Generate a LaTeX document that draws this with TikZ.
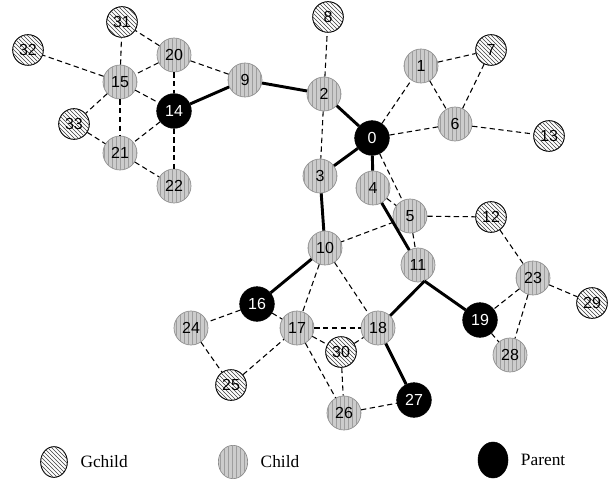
\documentclass[tikz,border=0pt]{standalone}
\usepackage{fontspec}
\setmainfont{Liberation Serif}
\setsansfont{Liberation Sans}
\usetikzlibrary{patterns,positioning,shapes}

\tikzset{
  numfont/.style={font=\sffamily\fontsize{12}{14}\selectfont},
  gchild/.style={circle, draw=black, line width=0.7, minimum size=23pt, inner sep=0pt,
    fill=white, postaction={pattern=north west lines, pattern color=black!75}, numfont},
  child/.style={circle, draw=black!45, line width=0.5, minimum size=25.5pt, inner sep=0pt,
    fill=black!20, postaction={pattern=vertical lines, pattern color=black!38}, numfont},
  parent/.style={circle, draw=black, fill=black, text=white, minimum size=26pt, inner sep=0pt, numfont},
  bond/.style={line width=2.2pt, black},
  link/.style={line width=0.8pt, black, dash pattern=on 4pt off 2.6pt},
  legtext/.style={font=\fontsize{13}{15}\selectfont, anchor=west}
}

\begin{document}
\begin{tikzpicture}[x=0.75pt,y=0.75pt,yscale=-1,xscale=1]
\useasboundingbox (0,0) rectangle (609,488);

% Parent nodes
\node[parent] (n0) at (372,138) {0};
\node[parent] (n14) at (174,111) {14};
\node[parent] (n16) at (257,304) {16};
\node[parent] (n19) at (480,320) {19};
\node[parent] (n27) at (414,400) {27};

% Child nodes
\node[child] (n1) at (421,66) {1};
\node[child] (n2) at (324,94) {2};
\node[child] (n3) at (320,176) {3};
\node[child] (n4) at (373,188) {4};
\node[child] (n5) at (410,216) {5};
\node[child] (n6) at (455,124) {6};
\node[child] (n9) at (245,80) {9};
\node[child] (n10) at (325,248) {10};
\node[child] (n11) at (418,265) {11};
\node[child] (n15) at (120,82) {15};
\node[child] (n17) at (297,328) {17};
\node[child] (n18) at (378,328) {18};
\node[child] (n20) at (174,55) {20};
\node[child] (n21) at (120,153) {21};
\node[child] (n22) at (174,186) {22};
\node[child] (n23) at (533,278) {23};
\node[child] (n24) at (191,328) {24};
\node[child] (n26) at (344,413) {26};
\node[child] (n28) at (510,355) {28};

% Gchild nodes
\node[gchild] (n7) at (491,50) {7};
\node[gchild] (n8) at (328,17) {8};
\node[gchild] (n12) at (491,217) {12};
\node[gchild] (n13) at (549,136) {13};
\node[gchild] (n25) at (231,385) {25};
\node[gchild] (n29) at (592,303) {29};
\node[gchild] (n30) at (341,352) {30};
\node[gchild] (n31) at (122,22) {31};
\node[gchild] (n32) at (28,50) {32};
\node[gchild] (n33) at (74,124) {33};

% Solid connectors
\draw[bond] (n14) -- (n9);
\draw[bond] (n9) -- (n2);
\draw[bond] (n2) -- (n0);
\draw[bond] (n0) -- (n3);
\draw[bond] (n0) -- (n4);
\draw[bond] (n3) -- (n10);
\draw[bond] (n10) -- (n16);
\draw[bond] (n4) -- (n11);
\draw[bond] (n11.-68) -- (n18);
\draw[bond] (n11.-68) -- (n19);
\draw[bond] (n18) -- (n27);

% Dashed connectors
\foreach \a/\b in {n0/n1, n0/n6, n0/n5, n1/n6, n1/n7, n6/n7, n6/n13, n2/n8, n2/n3,
                   n4/n5, n5/n12, n5/n10, n5/n11, n10/n17, n10/n18, n16/n17, n16/n24,
                   n24/n25, n25/n17, n17/n18, n17/n30, n30/n18, n17/n26, n30/n26, n26/n27,
                   n12/n23, n23/n29, n23/n19, n23/n28, n19/n28, n9/n20, n20/n31, n20/n15,
                   n20/n14, n15/n31, n15/n32, n15/n14, n15/n33, n15/n21, n33/n21, n14/n21,
                   n14/n22, n21/n22}
  \draw[link] (\a) -- (\b);

% Legend
\node[gchild, ellipse, minimum width=20pt, minimum height=23pt] (lgc) at (54,462) {};
\node[legtext, right=6pt of lgc] (tgc) {Gchild};
\node[child, ellipse, minimum width=22pt, minimum height=25pt] (lch) at (233,462) {};
\node[legtext, right=6pt of lch] (tch) {Child};
\node[parent, ellipse, minimum width=22.5pt, minimum height=27pt] (lpa) at (493,460) {};
\node[legtext, right=6pt of lpa] (tpa) {Parent};

\end{tikzpicture}
\end{document}
